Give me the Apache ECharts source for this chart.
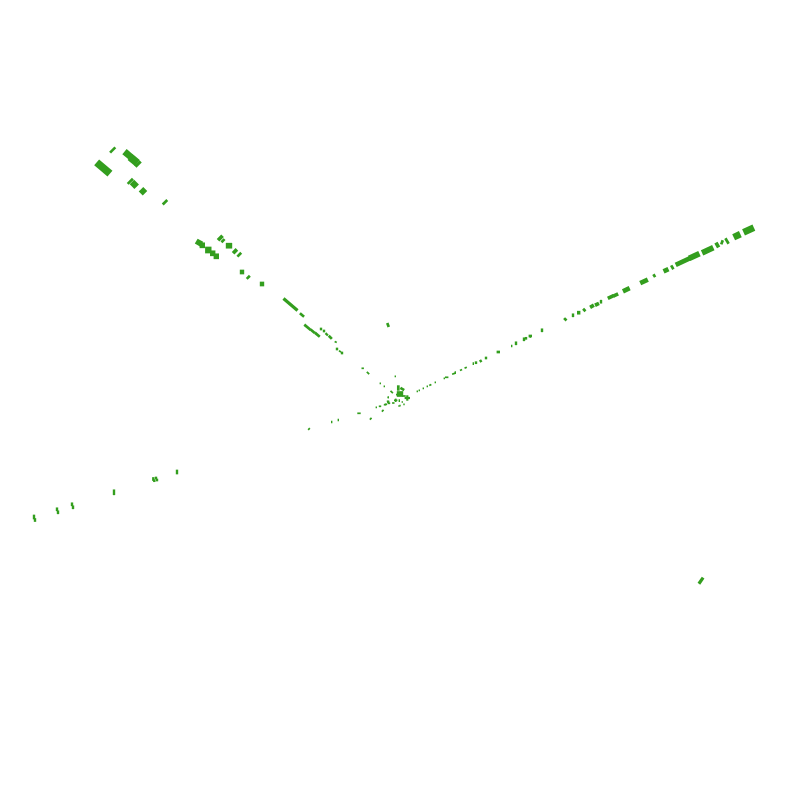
<!DOCTYPE html>
<html><head><meta charset="utf-8">
<style>html,body{margin:0;padding:0;background:#fff}#c{width:800px;height:800px}</style>
<script src="https://cdn.jsdelivr.net/npm/echarts@6/dist/echarts.min.js"></script>
</head><body><div id="c"></div>
<script>
const upperX=[112.7,127.7,133.7,138,103.3,130.3,134.3,143,165,199,202.3,208.3,212.7,216.3,220.3,223,229,235,239.3,242,248.3,262,290.5,302,307.5,312.7,317.3,321,324,326.7,330.3,335.7,337,340,342,362.7,368,380.3,384.3,395.3,388,701];
const upperY=[150,154.3,160,164,168,181.3,184.3,191.3,202.3,242.7,245.3,250,253.3,256.3,238,240.7,245.7,251.3,254.7,272,277.3,284,304.5,315,327.3,331.3,334.7,329,331,334.3,337.3,342,349,351.3,353,368.3,373,383.3,386.3,376.3,325,580.7];
const upperLen=[7,8,9,7,17,7,6,6,6,6,5,6,5,5,6,4,6,5,5,4,4,4,18,5,8,5,6,2,2,3,4,2,2,2,2,2,3,1,1,1,4,7];
const upperWid=[2,6,7,2.5,7,2,6,5,2,5,5,6,5,5,3,2,5,3,2,4,2,4,2.5,2,2,2,2,2,2,1.5,2,1,2,1,2,1,1,1,1,1,2,2.5];
const upperRot=[45,-40,-40,45,-40,45,45,45,45,-30,0,0,0,0,45,45,0,45,45,0,45,0,-40,-40,-40,-40,-40,0,0,-45,-45,-30,0,-30,0,0,-45,0,0,0,-70,55];

const rightX=[417.3,419.3,423.3,427.3,430.3,435.3,444.3,446.7,453.7,455.3,461,465.7,473.3,476,480.7,486,498.3,511.7,516,524,526,530.3,530.3,542,565.3,573,578.7,584.3,592,597,601,610.7,615.7,626.3,644,654.3,666,672.3,682.7,694.3,707.7,717.3,722,727,737,748.7];
const rightY=[391.3,390.3,388.3,386.3,385,382.3,378.3,377.3,373.7,372.7,370,367.7,363.7,362.7,361,358,352,346,343.3,339.3,338.3,336,337,330.3,319.3,315.3,312.7,310,306.3,304.3,301.7,297,295,289.7,281.3,275.7,270.3,267.3,261.7,256,250.3,245,242.3,241,235.7,230];
const rightLen=[1,1,1,1,2,1,1,3,3,1,2,2,1,2,2,2,3,1,2,2,2,3,1,2,3,2,3,3,4,4,2,6,5,7,8,3,5,4,15,11,12,5,4,6,7,11];
const rightWid=[1,1,1,1,1,1,1,1,1,2,1,1,2,2,2,2,2,2,3,3,2,2,1,3,2,3,3,2,3,3,3,3,3,4,4,2,4,2,4,5,5,3,2,2,6,6];
const rightRot=[0,0,0,0,30,0,0,0,20,0,30,20,0,0,30,0,0,0,0,0,0,0,0,0,-45,0,0,-45,30,25,0,25,25,25,25,-60,25,-60,25,25,25,-60,70,-60,25,25];

const lowerX=[34,35,57,58,72,73,114,153.3,154.3,156,157,177,309,331.7,338.3,359,370.7,376.3,380,382.7,386,389,388,388.3];
const lowerY=[517,520,509.3,512.3,504.3,507.3,492.3,479,480.7,478,480,472,429,422,420,413.3,418.7,407.3,406.3,410.7,404.3,403.3,401.3,397.3];
const lowerLen=[2,2,2,2,2,2,2,2,2,2,2,2,2,1,1,3,2,1,2,2,2,2,2,1];
const lowerWid=[4,3,3,3,3,3,5,3,2,2,2,4,1,2,2,1,1,1,1,1,1,1,1,1];
const lowerRot=[0,0,0,0,0,0,0,0,0,0,0,0,45,0,0,0,45,0,0,45,0,0,0,0];

const coreX=[398.3,400,402.3,407.3,407.3,395.7,395.7,391.7,388.3,393.3,388.3,385,399.3,402.3,400,404,396.7,399,404];
const coreY=[388,394,389,398,398,400.3,400.3,392,397.3,403,402.3,404.7,400.7,402,405.7,396,394.7,406,404.3];
const coreLen=[5,6,4,5,5,3,3,3,1,2,2,2,1,1,1,3,1,1,1];
const coreWid=[2,5,2,1.5,1.5,1,1,1,1,1,1,1,2,1,1,1,1,1,1];
const coreRot=[90,0,-30,0,90,0,90,-45,0,0,0,0,0,0,0,0,0,0,0];

const markColor='#339e1e';
const arms=[
  [upperX,upperY,upperLen,upperWid,upperRot],
  [rightX,rightY,rightLen,rightWid,rightRot],
  [lowerX,lowerY,lowerLen,lowerWid,lowerRot],
  [coreX,coreY,coreLen,coreWid,coreRot]
];
const chart=echarts.init(document.getElementById('c'),null,{renderer:'canvas'});
chart.setOption({
  animation:false,
  backgroundColor:'#fff',
  grid:{left:0,right:0,top:0,bottom:0},
  xAxis:{type:'value',min:0,max:800,show:false},
  yAxis:{type:'value',min:0,max:800,inverse:true,show:false},
  series:arms.map(([xs,ys,ls,ws,rs])=>({
    type:'scatter',
    symbol:'rect',
    silent:true,
    data:xs.map((x,i)=>[x,ys[i],ls[i],ws[i],rs[i]]),
    symbolSize:v=>[v[2]+0.4,v[3]+0.7],
    symbolRotate:v=>v[4],
    itemStyle:{color:markColor,opacity:1}
  }))
});
</script></body></html>
